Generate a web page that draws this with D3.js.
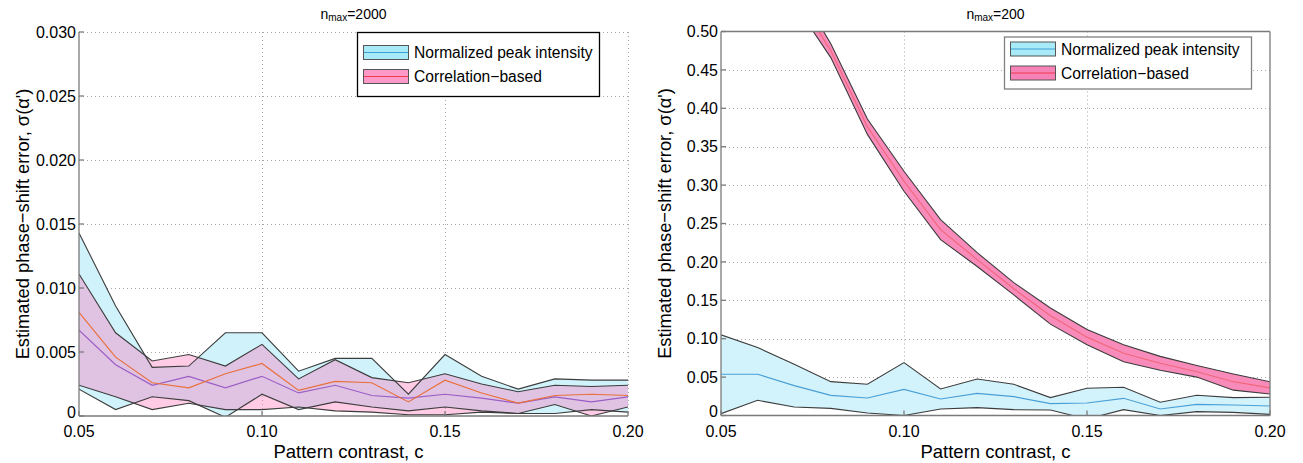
<!DOCTYPE html>
<html>
<head>
<meta charset="utf-8">
<script src="https://cdn.jsdelivr.net/npm/d3@7"></script>
<style>
  html, body { margin: 0; padding: 0; background: #fff; }
  svg { display: block; font-family: "Liberation Sans", Arial, Helvetica, sans-serif; }
</style>
</head>
<body>
<svg id="chart" width="1303" height="463"></svg>
<script>
// ---------------- DATA ----------------
const contrast = [0.05, 0.06, 0.07, 0.08, 0.09, 0.10, 0.11, 0.12, 0.13, 0.14, 0.15, 0.16, 0.17, 0.18, 0.19, 0.20];

// n_max = 2000 (left panel)
const npiUpper2000  = [0.0143, 0.0086, 0.0038, 0.0039, 0.0065, 0.0065, 0.0035, 0.0045, 0.0045, 0.0017, 0.0048, 0.0031, 0.0021, 0.0029, 0.0028, 0.0028];
const npiMean2000   = [0.0067, 0.0040, 0.0024, 0.0031, 0.0022, 0.0031, 0.0018, 0.0024, 0.0016, 0.0014, 0.0017, 0.0014, 0.0010, 0.0015, 0.0011, 0.0015];
const npiLower2000  = [0.0021, 0.0005, 0.0015, 0.0012, -0.0001, 0.0017, 0.0005, 0.0011, 0.0007, 0.0004, 0.0007, 0.0004, 0.0002, 0.0002, 0.0005, 0.0003];
const corrUpper2000 = [0.0111, 0.0065, 0.0043, 0.0048, 0.0039, 0.0056, 0.0029, 0.0044, 0.0030, 0.0026, 0.0033, 0.0025, 0.0019, 0.0024, 0.0023, 0.0024];
const corrMean2000  = [0.0081, 0.0046, 0.0026, 0.0022, 0.0033, 0.0041, 0.0020, 0.0027, 0.0026, 0.0011, 0.0028, 0.0018, 0.0010, 0.0016, 0.0017, 0.0016];
const corrLower2000 = [0.0024, 0.0015, 0.0005, 0.0010, 0.0005, 0.0005, 0.0007, 0.0004, 0.0003, 0.0001, 0.0001, 0.0003, 0.0002, 0.0009, 0.0000, 0.0007];

// n_max = 200 (right panel)
const npiUpper200  = [0.105, 0.0885, 0.0667, 0.0441, 0.0407, 0.0689, 0.0346, 0.0476, 0.0407, 0.0233, 0.0354, 0.0367, 0.0172, 0.0263, 0.0233, 0.0237];
const npiMean200   = [0.0537, 0.0537, 0.0389, 0.0263, 0.0228, 0.0341, 0.0215, 0.0289, 0.0246, 0.0154, 0.0163, 0.0224, 0.0085, 0.0146, 0.0137, 0.0124];
const npiLower200  = [0.0024, 0.0198, 0.0111, 0.0093, 0.0033, 0.0000, 0.0085, 0.0102, 0.0076, 0.0072, -0.0046, 0.0076, 0.0000, 0.0050, 0.0041, 0.0015];
const corrUpper200 = [0.90, 0.72, 0.565, 0.484, 0.386, 0.318, 0.255, 0.212, 0.173, 0.140, 0.112, 0.092, 0.077, 0.065, 0.054, 0.044];
const corrMean200  = [0.875, 0.70, 0.551, 0.475, 0.376, 0.305, 0.242, 0.203, 0.165, 0.130, 0.102, 0.081, 0.068, 0.057, 0.044, 0.036];
const corrLower200 = [0.85, 0.68, 0.537, 0.466, 0.366, 0.292, 0.229, 0.194, 0.157, 0.119, 0.092, 0.070, 0.059, 0.050, 0.033, 0.028];

const xTicks = [0.05, 0.10, 0.15, 0.20];
const xTickLabels = ["0.05", "0.10", "0.15", "0.20"];
const yTicks2000 = [0, 0.005, 0.010, 0.015, 0.020, 0.025, 0.030];
const yTickLabels2000 = ["0", "0.005", "0.010", "0.015", "0.020", "0.025", "0.030"];
const yTicks200 = [0, 0.05, 0.10, 0.15, 0.20, 0.25, 0.30, 0.35, 0.40, 0.45, 0.50];
const yTickLabels200 = ["0", "0.05", "0.10", "0.15", "0.20", "0.25", "0.30", "0.35", "0.40", "0.45", "0.50"];

const seriesNames = ["Normalized peak intensity", "Correlation\u2212based"];
const xLabel = "Pattern contrast, c";
const yLabel = "Estimated phase\u2212shift error, \u03c3(\u03b1')";

// ---------------- DRAW ----------------
const svg = d3.select("#chart");

function panel(cfg) {
  const { left, right, top, bottom } = cfg;
  const x = d3.scaleLinear().domain([0.05, 0.20]).range([left, right]);
  const y = d3.scaleLinear().domain(cfg.yDomain).range([bottom, top]);
  const g = svg.append("g");

  const clipId = "clip" + cfg.id;
  svg.append("defs").append("clipPath").attr("id", clipId)
    .append("rect").attr("x", left).attr("y", top).attr("width", right - left).attr("height", bottom - top);

  // grid
  const grid = g.append("g").attr("stroke", "#a8a8a8").attr("stroke-width", 1).attr("stroke-dasharray", "1,3");
  grid.selectAll("line.h").data(cfg.yTicks.filter(v => v > 0 && (cfg.box ? v < cfg.yDomain[1] : true))).join("line")
    .attr("x1", left).attr("x2", right).attr("y1", d => Math.round(y(d)) + 0.5).attr("y2", d => Math.round(y(d)) + 0.5);
  grid.selectAll("line.v").data(xTicks.filter(v => v > 0.05 && (cfg.box ? v < 0.20 : true))).join("line")
    .attr("y1", top).attr("y2", bottom).attr("x1", d => Math.round(x(d)) + 0.5).attr("x2", d => Math.round(x(d)) + 0.5);

  const rows = contrast.map((c, i) => ({
    c,
    nU: cfg.npiU[i], nM: cfg.npiM[i], nL: cfg.npiL[i],
    cU: cfg.corrU[i], cM: cfg.corrM[i], cL: cfg.corrL[i]
  }));

  const plot = g.append("g").attr("clip-path", `url(#${clipId})`);
  const area = (lo, hi) => d3.area().x(d => x(d.c)).y0(d => y(d[lo])).y1(d => y(d[hi]));
  const line = key => d3.line().x(d => x(d.c)).y(d => y(d[key]));

  plot.append("path").datum(rows).attr("d", area("nL", "nU")).attr("fill", cfg.blueFill);
  plot.append("path").datum(rows).attr("d", area("cL", "cU")).attr("fill", cfg.pinkFill).attr("fill-opacity", cfg.pinkAlpha);

  ["nU", "nL", "cU", "cL"].forEach(k => {
    plot.append("path").datum(rows).attr("d", line(k)).attr("fill", "none")
      .attr("stroke", "#3c3c3c").attr("stroke-width", 1.1);
  });
  plot.append("path").datum(rows).attr("d", line("nM")).attr("fill", "none").attr("stroke", cfg.blueMean).attr("stroke-width", 1.2);
  plot.append("path").datum(rows).attr("d", line("cM")).attr("fill", "none").attr("stroke", cfg.pinkMean).attr("stroke-width", 1.2);

  // axes lines
  const ax = g.append("g").attr("stroke", "#7a7a7a").attr("stroke-width", 1.3).attr("fill", "none");
  ax.append("line").attr("x1", left).attr("x2", left).attr("y1", top).attr("y2", bottom);
  ax.append("line").attr("x1", left).attr("x2", right).attr("y1", bottom).attr("y2", bottom);
  if (cfg.box) {
    ax.append("line").attr("x1", left).attr("x2", right).attr("y1", top).attr("y2", top);
    ax.append("line").attr("x1", right).attr("x2", right).attr("y1", top).attr("y2", bottom);
  }
  // ticks (inward)
  ax.selectAll("line.yt").data(cfg.yTicks).join("line")
    .attr("x1", left).attr("x2", left + 5).attr("y1", d => y(d)).attr("y2", d => y(d));
  ax.selectAll("line.xt").data(xTicks).join("line")
    .attr("y1", bottom).attr("y2", bottom - 5).attr("x1", d => x(d)).attr("x2", d => x(d));

  // tick labels
  g.append("g").selectAll("text").data(cfg.yTicks).join("text")
    .attr("x", left - 3).attr("y", d => y(d) - (d === 0 ? 4 : 0)).attr("dy", "0.36em")
    .attr("text-anchor", "end").attr("font-size", 16).attr("fill", "#000")
    .text((d, i) => cfg.yTickLabels[i]);
  g.append("g").selectAll("text").data(xTicks).join("text")
    .attr("x", d => x(d)).attr("y", bottom + 21)
    .attr("text-anchor", "middle").attr("font-size", 16).attr("fill", "#000")
    .text((d, i) => xTickLabels[i]);

  // axis labels
  g.append("text").attr("x", (left + right) / 2 + cfg.xLabelShift).attr("y", bottom + 42)
    .attr("text-anchor", "middle").attr("font-size", 18.5).attr("fill", "#000").text(xLabel);
  g.append("text").attr("transform", `translate(${left - 50},${(top + bottom) / 2}) rotate(-90)`)
    .attr("text-anchor", "middle").attr("font-size", 18.3).attr("fill", "#000").text(yLabel);

  // title
  const t = g.append("text").attr("x", (left + right) / 2).attr("y", 19)
    .attr("text-anchor", "middle").attr("font-size", 14).attr("fill", "#000");
  t.append("tspan").text("n");
  t.append("tspan").attr("font-size", 10).attr("dy", 2).text("max");
  t.append("tspan").attr("dy", -2).text("=" + cfg.nmax);

  // legend
  const L = cfg.legend;
  const lg = g.append("g");
  lg.append("rect").attr("x", L.x + 0.5).attr("y", L.y + 0.5).attr("width", L.w).attr("height", L.h)
    .attr("fill", "#fff").attr("stroke", L.border).attr("stroke-width", 1.3);
  const items = [
    { name: seriesNames[0], fill: L.bluePatch, ln: L.blueLine, dy: L.dy1 },
    { name: seriesNames[1], fill: L.pinkPatch, ln: L.pinkLine, dy: L.dy2 }
  ];
  items.forEach(it => {
    lg.append("rect").attr("x", L.x + 6.5).attr("y", L.y + it.dy + 0.5).attr("width", 45).attr("height", 14)
      .attr("fill", it.fill).attr("stroke", "#555").attr("stroke-width", 1);
    lg.append("line").attr("x1", L.x + 7).attr("x2", L.x + 51).attr("y1", L.y + it.dy + 7.5).attr("y2", L.y + it.dy + 7.5)
      .attr("stroke", it.ln).attr("stroke-width", 1.2);
    lg.append("text").attr("x", L.x + 57).attr("y", L.y + it.dy + 7.5).attr("dy", "0.36em")
      .attr("font-size", 15.6).attr("fill", "#000").text(it.name);
  });
}

panel({
  id: "L", left: 79, right: 628, top: 32, bottom: 416,
  yDomain: [0, 0.030], yTicks: yTicks2000, yTickLabels: yTickLabels2000,
  npiU: npiUpper2000, npiM: npiMean2000, npiL: npiLower2000,
  corrU: corrUpper2000, corrM: corrMean2000, corrL: corrLower2000,
  blueFill: "#d0f3fb", pinkFill: "#ff69b4", pinkAlpha: 0.35,
  blueMean: "#9a5ec6", pinkMean: "#e8703c",
  box: false, nmax: "2000", xLabelShift: -5,
  legend: { x: 357, y: 32, w: 242, h: 64, dy1: 13, dy2: 37, border: "#000", bluePatch: "#a9eaf8", blueLine: "#3c9fd6", pinkPatch: "#ff99c8", pinkLine: "#f03c50" }
});

panel({
  id: "R", left: 721, right: 1270, top: 31.5, bottom: 415.5,
  yDomain: [0, 0.50], yTicks: yTicks200, yTickLabels: yTickLabels200,
  npiU: npiUpper200, npiM: npiMean200, npiL: npiLower200,
  corrU: corrUpper200, corrM: corrMean200, corrL: corrLower200,
  blueFill: "#d3f3fc", pinkFill: "#f98bbb", pinkAlpha: 1,
  blueMean: "#4aa0d6", pinkMean: "#f0687a",
  box: true, nmax: "200", xLabelShift: 0,
  legend: { x: 1004, y: 36.5, w: 247, h: 52, dy1: 5, dy2: 29, border: "#808080", bluePatch: "#a9eaf8", blueLine: "#3c9fd6", pinkPatch: "#f783b6", pinkLine: "#f03c50" }
});
</script>
</body>
</html>
